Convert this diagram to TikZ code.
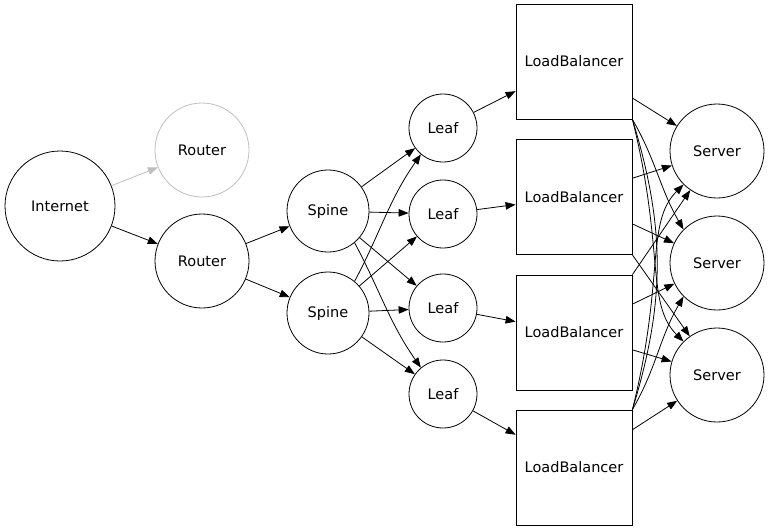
\documentclass[tikz,border=0pt]{standalone}
\usepackage{fontspec}
\setmainfont{DejaVu Sans}
\usetikzlibrary{arrows.meta}

\begin{document}
\begin{tikzpicture}[x=1pt,y=1pt,line width=.8pt,font=\fontsize{14.5}{17}\selectfont]

        \useasboundingbox (0,0) rectangle (768,-531);

        \begin{scope}[every node/.style={circle,draw}]
          \node[minimum size=110pt] (in) at (60,-206)  {Internet};
          \node[minimum size=94pt, draw=black!25] (r0) at (202,-150) {Router};
          \node[minimum size=94pt] (r1) at (202,-261) {Router};
          \node[minimum size=82pt] (s1) at (328,-211) {Spine};
          \node[minimum size=82pt] (s2) at (328,-313) {Spine};
          \node[minimum size=68pt] (l1) at (443,-128) {Leaf};
          \node[minimum size=68pt] (l2) at (443,-214) {Leaf};
          \node[minimum size=68pt] (l3) at (443,-308) {Leaf};
          \node[minimum size=68pt] (l4) at (443,-394) {Leaf};
          \node[minimum size=94pt] (v1) at (717,-151) {Server};
          \node[minimum size=94pt] (v2) at (717,-263) {Server};
          \node[minimum size=94pt] (v3) at (717,-375) {Server};
        \end{scope}

        \begin{scope}[every node/.style={rectangle,draw,minimum width=116pt,minimum height=115pt}]
          \node (lb1) at (574,-61.5)  {LoadBalancer};
          \node (lb2) at (574,-197)   {LoadBalancer};
          \node (lb3) at (574,-332.5) {LoadBalancer};
          \node (lb4) at (574,-467.5) {LoadBalancer};
        \end{scope}

        \begin{scope}[every edge/.style={draw,-{Triangle[length=10pt,width=7.5pt]}}]
          \path (in)  edge[black!25] (r0);
          \path (in)  edge (r1);
          \path (r1)  edge (s1);
          \path (r1)  edge (s2);
          \path (s1)  edge (l1);
          \path (s1)  edge (l2);
          \path (s1)  edge (l3);
          \path (s1.-50) edge[out=-62,in=125] (l4.130);
          \path (s2.50)  edge[out=62,in=-125] (l1.-130);
          \path (s2)  edge (l2);
          \path (s2)  edge (l3);
          \path (s2)  edge (l4);
          \path (l1)  edge (lb1);
          \path (l2)  edge (lb2);
          \path (l3)  edge (lb3);
          \path (l4)  edge (lb4);
          \path (lb1) edge (v1);
          \path (lb1.south east) edge[out=-60,in=120] (v2.135);
          \path (lb1.south east) edge[out=-76,in=135,out looseness=1.5,in looseness=.6] (v3.135);
          \path (lb1.south east) edge[-,out=-73,in=73] (lb4.north east);
          \path (lb2) edge (v1);
          \path (lb2) edge (v2);
          \path (lb2.south east) edge (v3);
          \path (lb3.north east) edge (v1);
          \path (lb3) edge (v2);
          \path (lb3) edge (v3);
          \path (lb4.north east) edge[out=76,in=-135,out looseness=1.5,in looseness=.6] (v1.-135);
          \path (lb4.north east) edge[out=60,in=-120] (v2.-135);
          \path (lb4) edge (v3);
        \end{scope}

      \end{tikzpicture}
\end{document}
